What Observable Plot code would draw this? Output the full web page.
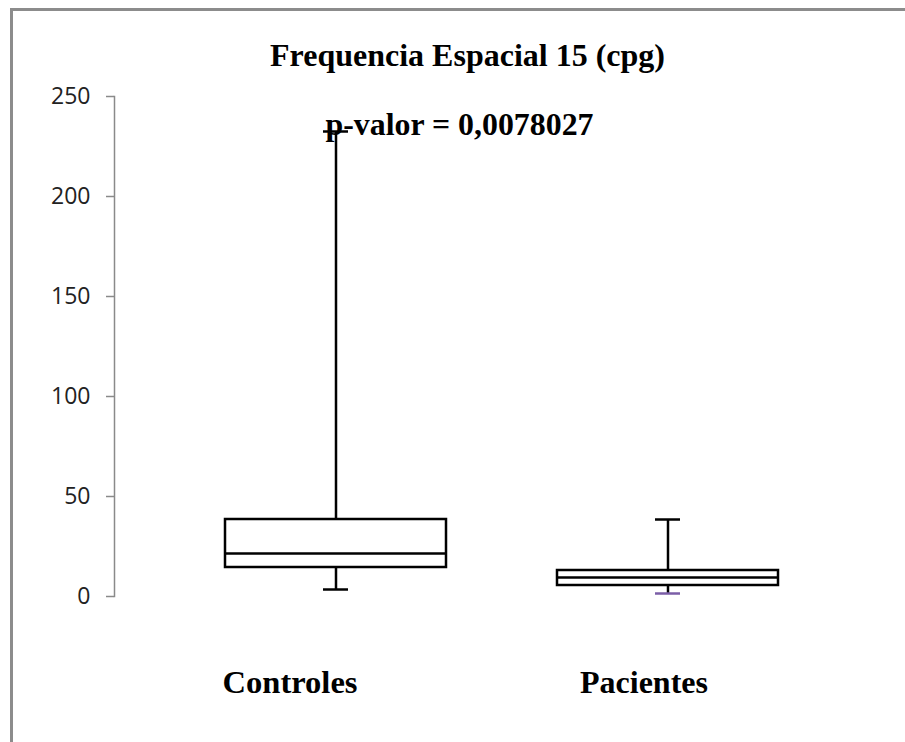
<!DOCTYPE html>
<html>
<head>
<meta charset="utf-8">
<script src="https://cdn.jsdelivr.net/npm/d3@7"></script>
<script src="https://cdn.jsdelivr.net/npm/@observablehq/plot@0.6"></script>
<style>
  html, body { margin: 0; padding: 0; background: #fff; }
  #wrap { position: relative; width: 905px; height: 742px; overflow: hidden; }
  #border { position: absolute; left: 10px; top: 8px; width: 920px; height: 760px;
            border-left: 3px solid #8c8c8c; border-top: 3px solid #8c8c8c; box-sizing: border-box; pointer-events: none; }
</style>
</head>
<body>
<div id="wrap"><div id="border"></div></div>
<script>
const title = "Frequencia Espacial 15 (cpg)";
const pValueText = "p-valor = 0,0078027";
const categories = ["Controles", "Pacientes"];
const mins    = [3.5, 1.5];
const q1s     = [14.5, 5.5];
const medians = [21.5, 9.5];
const q3s     = [38.5, 13];
const maxs    = [232.5, 38.5];
const yTicks  = [0, 50, 100, 150, 200, 250];

const data = categories.map((c, i) => ({cat: c, min: mins[i], q1: q1s[i], median: medians[i], q3: q3s[i], max: maxs[i]}));

const serif = "'Liberation Serif', 'Times New Roman', serif";
const sans = "'Open Sans', sans-serif";
const SW = 2.5;

const chart = Plot.plot({
  width: 905,
  height: 742,
  marginLeft: 114,
  marginRight: 71,
  marginTop: 96,
  marginBottom: 146,
  style: {background: "transparent", overflow: "visible"},
  x: {domain: categories, range: [170, 834], paddingInner: 0.334, paddingOuter: 0.167, axis: null},
  y: {domain: [0, 250], label: null, axis: null},
  marks: [
    Plot.frame({anchor: "left", stroke: "#8a8a8a", strokeWidth: 1.5}),
    Plot.axisY({ticks: yTicks, tickSize: 8, text: null, stroke: "#8a8a8a", strokeWidth: 1.5, label: null}),
    Plot.axisY({ticks: yTicks, tickSize: 0, tickPadding: 24, label: null, fontSize: 23, fontFamily: sans, fill: "#222", tickFormat: d => String(d)}),
    // whiskers
    Plot.ruleX(data, {x: "cat", y1: "q3", y2: "max", stroke: "black", strokeWidth: SW}),
    Plot.ruleX(data, {x: "cat", y1: "min", y2: "q1", stroke: "black", strokeWidth: SW}),
    // caps
    Plot.tickY(data, {x: "cat", y: "max", stroke: "black", strokeWidth: SW, inset: 98}),
    Plot.tickY(data, {x: "cat", y: "min", stroke: d => d.cat === "Pacientes" ? "#7b5ea7" : "black", strokeWidth: SW, inset: 98}),
    // boxes
    Plot.barY(data, {x: "cat", y1: "q1", y2: "q3", fill: "white", stroke: "black", strokeWidth: SW}),
    Plot.tickY(data, {x: "cat", y: "median", stroke: "black", strokeWidth: SW}),
    // texts
    Plot.text([title], {text: d => d, frameAnchor: "top", dx: -7, dy: -31, lineAnchor: "bottom", fontSize: 31, fontWeight: "bold", fontFamily: serif, fill: "black", className: "t-title"}),
    Plot.text([pValueText], {text: d => d, frameAnchor: "top", dx: -15, dy: 38, lineAnchor: "bottom", fontSize: 31, fontWeight: "bold", fontFamily: serif, fill: "black", className: "t-p"}),
    Plot.text([categories[0]], {x: d => d, text: d => d, frameAnchor: "bottom", dx: -46, dy: 96, lineAnchor: "bottom", fontSize: 32, fontWeight: "bold", fontFamily: serif, fill: "black", className: "t-c0"}),
    Plot.text([categories[1]], {x: d => d, text: d => d, frameAnchor: "bottom", dx: -24, dy: 96, lineAnchor: "bottom", fontSize: 32, fontWeight: "bold", fontFamily: serif, fill: "black", className: "t-c1"})
  ]
});
document.getElementById("wrap").appendChild(chart);
// fit text widths to the reference
const fits = {"t-title": 395, "t-p": 268, "t-c0": 135, "t-c1": 128};
for (const [cls, len] of Object.entries(fits)) {
  d3.select(chart).selectAll(`.${cls} text`).attr("textLength", len).attr("lengthAdjust", "spacingAndGlyphs");
}
</script>
</body>
</html>
